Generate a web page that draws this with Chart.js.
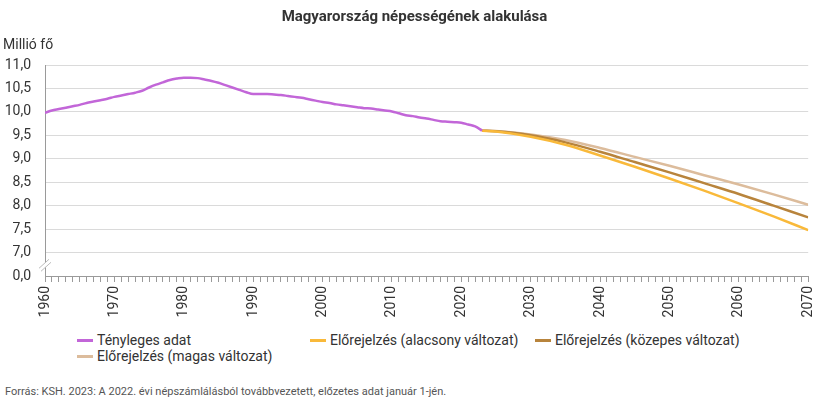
<!DOCTYPE html>
<html>
<head>
<meta charset="utf-8">
<script src="https://cdn.jsdelivr.net/npm/chart.js@4"></script>
<style>
  body { margin: 0; background: #fff; font-family: Roboto, "Noto Sans", sans-serif; color: #333; }
  #wrap { position: relative; width: 829px; height: 397px; }
  #chart { position: absolute; left: 0; top: 0; }
  .title { position: absolute; left: 0; width: 829px; top: 7px; text-align: center; font-weight: bold; font-size: 15px; color: #333; }
  .unit { position: absolute; left: 3px; top: 36px; font-size: 14px; color: #333; }
  .legend { position: absolute; left: 77px; top: 332px; font-size: 14px; color: #333; display: grid; grid-template-columns: 233px 225px auto; row-gap: 0px; }
  .legend div { display: flex; align-items: center; height: 16px; white-space: nowrap; }
  .legend span.mk { display: inline-block; width: 16px; height: 3px; margin-right: 4px; }
  .source { position: absolute; left: 5px; top: 385px; font-size: 11px; color: #555; }
</style>
</head>
<body>
<div id="wrap">
  <canvas id="chart" width="829" height="330"></canvas>
  <div class="title">Magyarország népességének alakulása</div>
  <div class="unit">Millió fő</div>
  <div class="legend" id="legend"></div>
  <div class="source">Forrás: KSH. 2023: A 2022. évi népszámlálásból továbbvezetett, előzetes adat január 1-jén.</div>
</div>
<script>
// actual population, million, 1960-2023
const actualYears = [1960, 1961, 1962, 1963, 1964, 1965, 1966, 1967, 1968, 1969,
  1970, 1971, 1972, 1973, 1974, 1975, 1976, 1977, 1978, 1979,
  1980, 1981, 1982, 1983, 1984, 1985, 1986, 1987, 1988, 1989,
  1990, 1991, 1992, 1993, 1994, 1995, 1996, 1997, 1998, 1999,
  2000, 2001, 2002, 2003, 2004, 2005, 2006, 2007, 2008, 2009,
  2010, 2011, 2012, 2013, 2014, 2015, 2016, 2017, 2018, 2019,
  2020, 2021, 2022, 2023];
const actualValues = [9.98, 10.03, 10.06, 10.09, 10.12, 10.15, 10.19, 10.22, 10.25, 10.28,
  10.32, 10.35, 10.38, 10.41, 10.45, 10.52, 10.58, 10.63, 10.68, 10.71,
  10.73, 10.73, 10.72, 10.69, 10.66, 10.62, 10.57, 10.52, 10.47, 10.42,
  10.38, 10.38, 10.38, 10.37, 10.36, 10.34, 10.32, 10.30, 10.27, 10.24,
  10.21, 10.19, 10.16, 10.14, 10.12, 10.10, 10.08, 10.07, 10.05, 10.03,
  10.01, 9.97, 9.93, 9.91, 9.88, 9.86, 9.83, 9.80, 9.79, 9.78,
  9.77, 9.73, 9.69, 9.60];

// projections
const projYears = [2023, 2025, 2030, 2035, 2040, 2045, 2050, 2055, 2060, 2065, 2070];
const projLow = [9.60, 9.58, 9.47, 9.30, 9.07, 8.83, 8.58, 8.32, 8.05, 7.77, 7.48];
const projMid = [9.60, 9.585, 9.50, 9.35, 9.15, 8.93, 8.71, 8.48, 8.25, 8.00, 7.75];
const projHigh = [9.60, 9.59, 9.52, 9.40, 9.23, 9.04, 8.85, 8.65, 8.45, 8.24, 8.02];

const seriesLabels = ['Tényleges adat', 'Előrejelzés (alacsony változat)', 'Előrejelzés (közepes változat)', 'Előrejelzés (magas változat)'];
const seriesColors = ['#c266d8', '#f9b93a', '#b8843c', '#dcbc9c'];

// y axis break: 6.5 on the scale is shown as "0,0"
const yMin = 6.5, yMax = 11.0, yStep = 0.5;
const xMin = 1960, xMax = 2070;

function pairs(xs, ys) { return xs.map((x, i) => ({ x: x, y: ys[i] })); }

const axisBreak = {
  id: 'axisBreak',
  afterDraw(chart) {
    const c = chart.ctx;
    const x = chart.chartArea.left;
    const y = (chart.scales.y.getPixelForValue(7.0) + chart.scales.y.getPixelForValue(6.5)) / 2;
    c.save();
    c.fillStyle = '#fff';
    c.beginPath();
    c.moveTo(x - 6, y + 4); c.lineTo(x + 4, y - 5); c.lineTo(x + 6, y - 2); c.lineTo(x - 4, y + 7);
    c.closePath();
    c.fill();
    c.strokeStyle = '#bbb';
    c.lineWidth = 1;
    c.beginPath();
    c.moveTo(x - 6, y + 4); c.lineTo(x + 4, y - 5);
    c.moveTo(x - 4, y + 7); c.lineTo(x + 6, y - 2);
    c.stroke();
    c.restore();
  }
};

const datasets = [
  { data: pairs(actualYears, actualValues) },
  { data: pairs(projYears, projLow) },
  { data: pairs(projYears, projMid) },
  { data: pairs(projYears, projHigh) }
].map((d, i) => Object.assign(d, {
  label: seriesLabels[i],
  borderColor: seriesColors[i],
  backgroundColor: seriesColors[i],
  borderWidth: 2.5,
  pointRadius: 0,
  cubicInterpolationMode: 'monotone',
  fill: false
}));

new Chart(document.getElementById('chart'), {
  type: 'line',
  data: { datasets: datasets },
  options: {
    responsive: false,
    animation: false,
    layout: { padding: { left: 0, right: 11, top: 65, bottom: 0 } },
    plugins: { legend: { display: false }, tooltip: { enabled: false } },
    scales: {
      x: {
        type: 'linear',
        min: xMin, max: xMax,
        grid: { drawOnChartArea: false, drawTicks: true, tickLength: 6, color: '#9a9a9a' },
        border: { color: '#9a9a9a' },
        ticks: {
          stepSize: 1, autoSkip: false, maxRotation: 90, minRotation: 90, padding: 4,
          color: '#333', font: { family: 'Roboto', size: 14 },
          callback: v => (v % 10 === 0 ? String(v) : '')
        },
        afterFit: s => { s.height = 54; }
      },
      y: {
        min: yMin, max: yMax,
        grid: { color: '#dadada', drawTicks: false },
        border: { color: '#9a9a9a' },
        ticks: {
          stepSize: yStep, padding: 14, color: '#333', font: { family: 'Roboto', size: 14 },
          callback: v => (v === yMin ? '0,0' : v.toFixed(1).replace('.', ','))
        },
        afterFit: s => { s.width = 45; }
      }
    }
  },
  plugins: [axisBreak]
});

// html legend
const order = [0, 1, 2, 3];
document.getElementById('legend').innerHTML = order.map(i =>
  '<div><span class="mk" style="background:' + seriesColors[i] + '"></span>' + seriesLabels[i] + '</div>'
).join('');
</script>
</body>
</html>
